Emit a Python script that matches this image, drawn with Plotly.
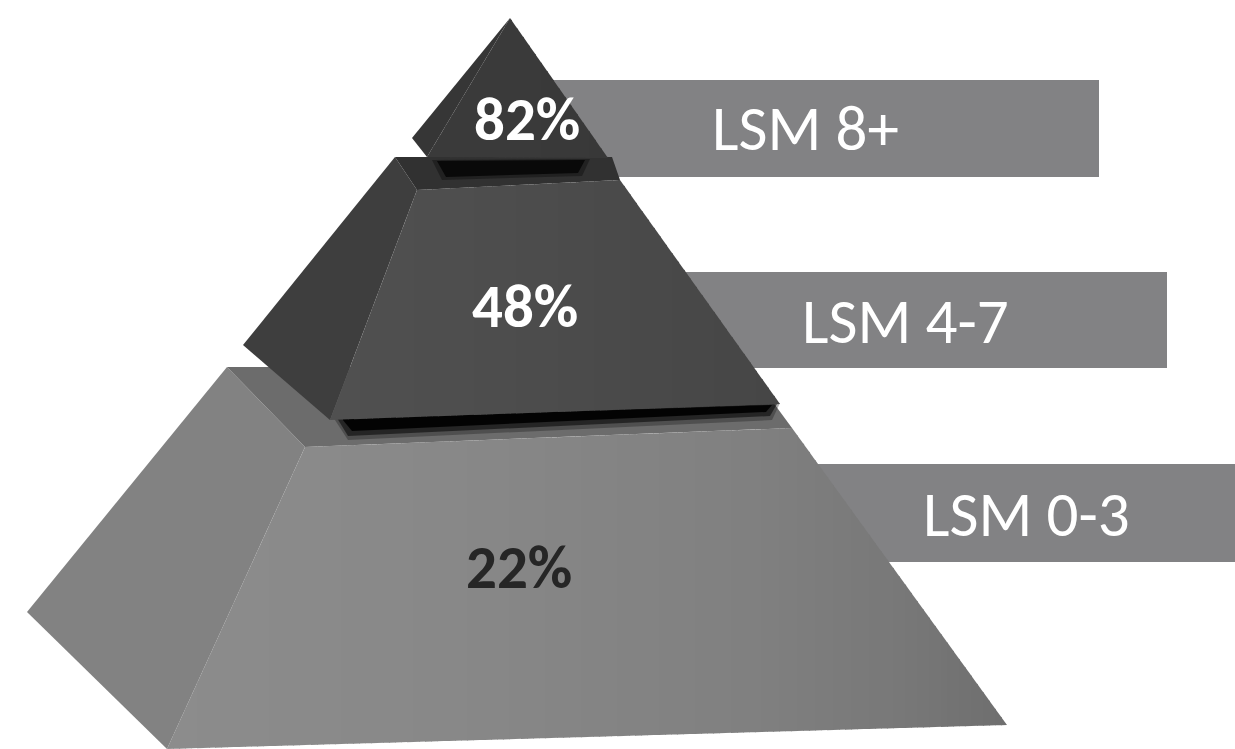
import plotly.graph_objects as go

# ---- data ----
segments = ["LSM 8+", "LSM 4-7", "LSM 0-3"]
values = [82, 48, 22]
value_colors = ["#ffffff", "#ffffff", "#262626"]

W, H = 1235, 749

# ---- decoration geometry (pixel space) ----
def clip_half(poly, x_lim, keep_greater):
    out = []
    n = len(poly)
    for i in range(n):
        cx, cy = poly[i]
        px, py = poly[i - 1]
        cin = cx >= x_lim if keep_greater else cx <= x_lim
        pin = px >= x_lim if keep_greater else px <= x_lim
        if cin:
            if not pin:
                t = (x_lim - px) / (cx - px)
                out.append((x_lim, py + t * (cy - py)))
            out.append((cx, cy))
        elif pin:
            t = (x_lim - px) / (cx - px)
            out.append((x_lim, py + t * (cy - py)))
    return out

def clip_band(poly, x0, x1):
    p = clip_half(poly, x0, True)
    if not p:
        return p
    return clip_half(p, x1, False)

def path(poly):
    return "M " + " L ".join(f"{x:.2f},{y:.2f}" for x, y in poly) + " Z"

def interp_gray(x, stops):
    for (xa, ga), (xb, gb) in zip(stops, stops[1:]):
        if xa <= x <= xb:
            g = ga + (gb - ga) * (x - xa) / (xb - xa)
            g = int(round(g))
            return f"rgb({g},{g},{g})"
    g = stops[0][1] if x < stops[0][0] else stops[-1][1]
    return f"rgb({g},{g},{g})"

shapes = []

def add_poly(poly, color, opacity=1.0):
    shapes.append(dict(type="path", path=path(poly), fillcolor=color,
                       line=dict(width=0), layer="above", opacity=opacity,
                       xref="x", yref="y"))

def add_gradient(poly, stops, step=6):
    xs = [p[0] for p in poly]
    x = min(xs)
    xmax = max(xs)
    while x < xmax:
        band = clip_band(poly, x, min(x + step + 0.8, xmax))
        if len(band) >= 3:
            add_poly(band, interp_gray(x + step / 2, stops))
        x += step

# label boxes (behind pyramid)
box_color = "#828284"
boxes = [(540, 1099, 80, 177), (650, 1167, 272, 368), (780, 1235, 464, 562)]
for x0, x1, y0, y1 in boxes:
    shapes.append(dict(type="rect", x0=x0, x1=x1, y0=y0, y1=y1,
                       fillcolor=box_color, line=dict(width=0),
                       layer="above", xref="x", yref="y"))

# bottom piece
add_poly([(227, 367), (27, 612), (167, 749), (305, 447)], "#828282")       # left face
add_poly([(227, 367), (747, 367), (792, 428), (305, 447)], "#6c6c6c")      # top face
add_gradient([(305, 447), (792, 428), (1007, 725), (167, 749)],
             [(160, 140), (450, 136), (750, 128), (900, 120), (1010, 110)])
# shadow of middle piece on bottom top face
add_poly([(333, 417), (780, 403), (772, 420), (348, 440)], "#1a1a1a", 0.35)
add_poly([(337, 418), (777, 404), (770, 416), (348, 436)], "#0a0a0a", 0.6)
add_poly([(342, 419), (772, 405), (766, 412), (352, 431)], "#000000", 0.9)

# middle piece
add_poly([(395, 157), (243, 345), (330, 420), (417, 190)], "#3e3e3e")      # left face
add_poly([(395, 157), (612, 157), (620, 180), (417, 190)], "#313131")      # top face
add_gradient([(417, 190), (620, 180), (780, 404), (330, 420)],
             [(330, 80), (500, 77), (650, 73), (780, 70)])
add_poly([(432, 160), (590, 159), (582, 176), (442, 180)], "#111111", 0.5)
add_poly([(437, 161), (585, 160), (578, 173), (446, 177)], "#050505", 0.85)

# top piece
add_poly([(510, 18), (412, 138), (427, 157)], "#363636")                  # left face
add_gradient([(510, 18), (427, 157), (608, 158)],
             [(420, 58), (520, 58), (610, 56)])

# ---- text ----
annotations = []
label_pos = [(805, 128), (905, 321), (1026, 514)]
for seg, (x, y) in zip(segments, label_pos):
    annotations.append(dict(x=x, y=y, xref="x", yref="y", text=seg,
                            showarrow=False,
                            font=dict(family="Carlito, Lato, sans-serif",
                                      size=63, color="#ffffff")))
value_pos = [(527, 119), (525, 306), (519, 567)]
for v, c, (x, y) in zip(values, value_colors, value_pos):
    annotations.append(dict(x=x, y=y, xref="x", yref="y", text=f"<b>{v}%</b>",
                            showarrow=False,
                            font=dict(family="Carlito, Lato, sans-serif",
                                      size=61, color=c)))

fig = go.Figure()
fig.add_trace(go.Scatter(x=[0, W], y=[0, H], mode="markers",
                         marker=dict(opacity=0), hoverinfo="skip",
                         showlegend=False))
fig.update_layout(
    width=W, height=H, autosize=False,
    margin=dict(l=0, r=0, t=0, b=0),
    paper_bgcolor="#ffffff", plot_bgcolor="#ffffff",
    xaxis=dict(range=[0, W], visible=False, fixedrange=True),
    yaxis=dict(range=[H, 0], visible=False, fixedrange=True),
    shapes=shapes, annotations=annotations, showlegend=False,
)
fig.write_html("out.html", config={"displayModeBar": False})
